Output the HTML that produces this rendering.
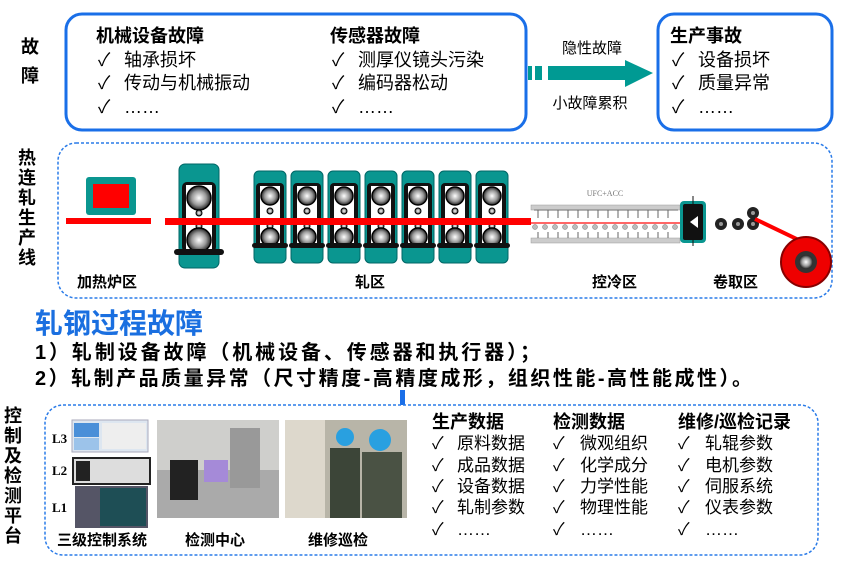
<!DOCTYPE html>
<html><head><meta charset="utf-8"><style>
html,body{margin:0;padding:0;background:#fff;}
svg{display:block;font-family:"Liberation Sans","Noto Sans CJK SC",sans-serif;}
.b{font-weight:bold;}
</style></head><body>
<svg width="859" height="578" viewBox="0 0 859 578" xmlns="http://www.w3.org/2000/svg">
<defs>
<radialGradient id="rg"><stop offset="0" stop-color="#fff"/><stop offset="0.6" stop-color="#999"/><stop offset="1" stop-color="#222"/></radialGradient>
<g id="stand">
 <rect x="0" y="0" width="32" height="92" rx="5" fill="#0a9690" stroke="#066" stroke-width="1"/>
 <rect x="2" y="12" width="28" height="64" rx="4" fill="#111"/>
 <rect x="6" y="15" width="20" height="58" fill="#fff"/>
 <circle cx="16" cy="25" r="9" fill="url(#rg)" stroke="#000" stroke-width="1.5"/>
 <circle cx="16" cy="40" r="3" fill="url(#rg)" stroke="#000"/>
 <circle cx="16" cy="55" r="3" fill="url(#rg)" stroke="#000"/>
 <circle cx="16" cy="66" r="9" fill="url(#rg)" stroke="#000" stroke-width="1.5"/>
 <rect x="-2" y="72" width="36" height="5" rx="2.5" fill="#111"/>
</g>
</defs>

<text x="30" y="53" font-size="18" class="b" text-anchor="middle">故</text>
<text x="30" y="82" font-size="18" class="b" text-anchor="middle">障</text>
<rect x="66" y="14" width="460" height="116" rx="16" fill="none" stroke="#1a6fe8" stroke-width="3"/>
<g font-size="18">
<text x="96" y="42" class="b">机械设备故障</text>
<text x="98" y="66">✓</text><text x="124" y="66">轴承损坏</text>
<text x="98" y="89">✓</text><text x="124" y="89">传动与机械振动</text>
<text x="98" y="113">✓</text><text x="124" y="113">……</text>
<text x="330" y="42" class="b">传感器故障</text>
<text x="332" y="66">✓</text><text x="358" y="66">测厚仪镜头污染</text>
<text x="332" y="89">✓</text><text x="358" y="89">编码器松动</text>
<text x="332" y="113">✓</text><text x="358" y="113">……</text>
</g>
<rect x="528" y="66" width="4" height="14" fill="#009a93"/>
<rect x="535" y="66" width="7" height="14" fill="#009a93"/>
<polygon points="548,66 625,66 625,60 653,73 625,87 625,80 548,80" fill="#009a93"/>
<text x="592" y="53" font-size="15" text-anchor="middle">隐性故障</text>
<text x="590" y="108" font-size="15" text-anchor="middle">小故障累积</text>
<rect x="658" y="14" width="174" height="116" rx="16" fill="none" stroke="#1a6fe8" stroke-width="3"/>
<g font-size="18">
<text x="670" y="42" class="b">生产事故</text>
<text x="672" y="66">✓</text><text x="698" y="66">设备损坏</text>
<text x="672" y="89">✓</text><text x="698" y="89">质量异常</text>
<text x="672" y="113">✓</text><text x="698" y="113">……</text>
</g>

<g font-size="18" class="b" text-anchor="middle">
<text x="27" y="164">热</text><text x="27" y="184">连</text><text x="27" y="204">轧</text>
<text x="27" y="224">生</text><text x="27" y="244">产</text><text x="27" y="264">线</text>
</g>
<rect x="58" y="143" width="774" height="155" rx="18" fill="none" stroke="#2a7be8" stroke-width="1.5" stroke-dasharray="3,2"/>
<rect x="86" y="177" width="50" height="38" rx="3" fill="#0a9690"/>
<rect x="93" y="184" width="36" height="24" fill="#f00"/>
<rect x="179" y="164" width="40" height="104" rx="6" fill="#0a9690" stroke="#066"/>
<rect x="182" y="182" width="34" height="70" rx="5" fill="#111"/>
<rect x="186" y="185" width="26" height="64" fill="#fff"/>
<circle cx="199" cy="198" r="12" fill="url(#rg)" stroke="#000" stroke-width="1.5"/>
<circle cx="199" cy="213" r="3" fill="url(#rg)" stroke="#000"/>
<circle cx="199" cy="226" r="3" fill="url(#rg)" stroke="#000"/>
<circle cx="199" cy="240" r="12" fill="url(#rg)" stroke="#000" stroke-width="1.5"/>
<rect x="174" y="249" width="50" height="6" rx="3" fill="#111"/>
<use href="#stand" x="254" y="171"/><use href="#stand" x="291" y="171"/><use href="#stand" x="328" y="171"/>
<use href="#stand" x="365" y="171"/><use href="#stand" x="402" y="171"/><use href="#stand" x="439" y="171"/>
<use href="#stand" x="476" y="171"/>
<rect x="66" y="218" width="85" height="6" fill="#f00"/>
<rect x="165" y="218" width="366" height="7" fill="#f00"/>
<text x="605" y="196" font-size="8" fill="#777" text-anchor="middle" font-family="Liberation Serif,serif">UFC+ACC</text>
<rect x="531" y="205" width="149" height="5" fill="#ccc" stroke="#999" stroke-width="0.5"/>
<rect x="531" y="238" width="149" height="5" fill="#ccc" stroke="#999" stroke-width="0.5"/>
<line x1="534" y1="210" x2="678" y2="210" stroke="#888" stroke-width="1.2"/>
<g fill="#bbb" stroke="#777" stroke-width="0.5">
<circle cx="535" cy="227" r="2.5"/><circle cx="545" cy="227" r="2.5"/><circle cx="555" cy="227" r="2.5"/><circle cx="565" cy="227" r="2.5"/><circle cx="575" cy="227" r="2.5"/><circle cx="585" cy="227" r="2.5"/><circle cx="595" cy="227" r="2.5"/><circle cx="605" cy="227" r="2.5"/><circle cx="615" cy="227" r="2.5"/><circle cx="625" cy="227" r="2.5"/><circle cx="635" cy="227" r="2.5"/><circle cx="645" cy="227" r="2.5"/><circle cx="655" cy="227" r="2.5"/><circle cx="665" cy="227" r="2.5"/><circle cx="675" cy="227" r="2.5"/>
</g>
<g stroke="#666" stroke-width="1" fill="none">
<path d="M538 210v8M548 210v8M558 210v8M568 210v8M578 210v8M588 210v8M598 210v8M608 210v8M618 210v8M628 210v8M638 210v8M648 210v8M658 210v8M668 210v8"/>
<path d="M538 232v6M548 232v6M558 232v6M568 232v6M578 232v6M588 232v6M598 232v6M608 232v6M618 232v6M628 232v6M638 232v6M648 232v6M658 232v6M668 232v6"/>
</g>
<line x1="531" y1="223" x2="680" y2="223" stroke="#f33" stroke-width="1.5"/>
<rect x="680" y="201" width="26" height="42" rx="4" fill="#0a9690"/>
<rect x="683" y="204" width="20" height="36" rx="2" fill="#111"/>
<line x1="693" y1="196" x2="693" y2="246" stroke="#111" stroke-width="1"/>
<polygon points="690,222 698,216 698,228" fill="#fff"/>
<g fill="#222"><circle cx="721" cy="224" r="6"/><circle cx="738" cy="224" r="6"/><circle cx="753" cy="224" r="6"/><circle cx="753" cy="213" r="6"/></g>
<g fill="#999"><circle cx="721" cy="224" r="2"/><circle cx="738" cy="224" r="2"/><circle cx="753" cy="224" r="2"/><circle cx="753" cy="213" r="2"/></g>
<line x1="755" y1="219" x2="805" y2="243" stroke="#f00" stroke-width="4"/>
<circle cx="806" cy="262" r="25" fill="#e00" stroke="#800" stroke-width="2"/>
<circle cx="806" cy="262" r="11" fill="#333"/>
<circle cx="806" cy="262" r="7" fill="url(#rg)"/>
<g font-size="15" class="b">
<text x="77" y="287">加热炉区</text>
<text x="355" y="287">轧区</text>
<text x="592" y="287">控冷区</text>
<text x="713" y="287">卷取区</text>
</g>

<text x="35" y="333" font-size="28" class="b" fill="#1a6fe0">轧钢过程故障</text>
<text x="35" y="359" font-size="20" class="b" textLength="505" lengthAdjust="spacing">1）轧制设备故障（机械设备、传感器和执行器）；</text>
<text x="35" y="385" font-size="20" class="b" textLength="717" lengthAdjust="spacing">2）轧制产品质量异常（尺寸精度-高精度成形，组织性能-高性能成性）。</text>
<rect x="400" y="390" width="5" height="15" fill="#1a6fe8"/>

<g font-size="18" class="b" text-anchor="middle">
<text x="13" y="422">控</text><text x="13" y="442">制</text><text x="13" y="462">及</text>
<text x="13" y="482">检</text><text x="13" y="502">测</text><text x="13" y="522">平</text><text x="13" y="542">台</text>
</g>
<rect x="45" y="405" width="773" height="150" rx="18" fill="none" stroke="#2a7be8" stroke-width="1.5" stroke-dasharray="3,2"/>
<g font-size="13" class="b" font-family="Liberation Serif,serif">
<text x="52" y="443">L3</text><text x="52" y="475">L2</text><text x="52" y="512">L1</text>
</g>
<rect x="72" y="420" width="76" height="32" fill="#dde6f0" stroke="#aab"/>
<rect x="74" y="423" width="25" height="14" fill="#4a8fd8"/>
<rect x="74" y="438" width="25" height="12" fill="#9cc3ea"/>
<rect x="102" y="423" width="44" height="26" fill="#eee"/>
<rect x="73" y="458" width="77" height="26" fill="#ddd" stroke="#222" stroke-width="2"/>
<rect x="76" y="461" width="14" height="20" fill="#222"/>
<rect x="75" y="486" width="73" height="42" fill="#556"/>
<rect x="100" y="488" width="46" height="38" fill="#1e4e55"/>
<rect x="157" y="420" width="122" height="98" fill="#cfcfcc"/>
<rect x="157" y="470" width="122" height="48" fill="#aaa"/>
<rect x="170" y="460" width="28" height="40" fill="#222"/>
<rect x="204" y="460" width="24" height="22" fill="#a58ad8"/>
<rect x="230" y="428" width="30" height="60" fill="#999"/>
<rect x="285" y="420" width="122" height="98" fill="#b8b5a8"/>
<rect x="285" y="420" width="40" height="98" fill="#ddd8cc"/>
<circle cx="345" cy="437" r="9" fill="#29a0e0"/>
<circle cx="380" cy="440" r="11" fill="#29a0e0"/>
<rect x="330" y="448" width="30" height="70" fill="#3c4538"/>
<rect x="362" y="452" width="40" height="66" fill="#4a5244"/>
<g font-size="15" class="b">
<text x="57" y="545">三级控制系统</text>
<text x="185" y="545">检测中心</text>
<text x="308" y="545">维修巡检</text>
</g>
<g font-size="17">
<text x="432" y="428" class="b" font-size="18">生产数据</text>
<text x="432" y="449">✓</text><text x="457" y="449">原料数据</text>
<text x="432" y="471">✓</text><text x="457" y="471">成品数据</text>
<text x="432" y="492">✓</text><text x="457" y="492">设备数据</text>
<text x="432" y="513">✓</text><text x="457" y="513">轧制参数</text>
<text x="432" y="535">✓</text><text x="457" y="535">……</text>
<text x="553" y="428" class="b" font-size="18">检测数据</text>
<text x="553" y="449">✓</text><text x="580" y="449">微观组织</text>
<text x="553" y="471">✓</text><text x="580" y="471">化学成分</text>
<text x="553" y="492">✓</text><text x="580" y="492">力学性能</text>
<text x="553" y="513">✓</text><text x="580" y="513">物理性能</text>
<text x="553" y="535">✓</text><text x="580" y="535">……</text>
<text x="678" y="428" class="b" font-size="18">维修/巡检记录</text>
<text x="678" y="449">✓</text><text x="705" y="449">轧辊参数</text>
<text x="678" y="471">✓</text><text x="705" y="471">电机参数</text>
<text x="678" y="492">✓</text><text x="705" y="492">伺服系统</text>
<text x="678" y="513">✓</text><text x="705" y="513">仪表参数</text>
<text x="678" y="535">✓</text><text x="705" y="535">……</text>
</g>
</svg>
</body></html>
